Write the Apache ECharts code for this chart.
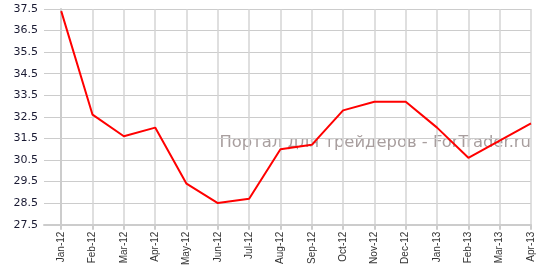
<!DOCTYPE html>
<html><head><meta charset="utf-8">
<script src="https://cdn.jsdelivr.net/npm/echarts@6/dist/echarts.min.js"></script>
<style>html,body{margin:0;padding:0;background:#fff}#c{width:536px;height:268px}</style>
</head><body><div id="c"></div>
<script>
const categories = ['Jan-12','Feb-12','Mar-12','Apr-12','May-12','Jun-12','Jul-12','Aug-12','Sep-12','Oct-12','Nov-12','Dec-12','Jan-13','Feb-13','Mar-13','Apr-13'];
const values = [37.4,32.6,31.6,32.0,29.4,28.5,28.7,31.0,31.2,32.8,33.2,33.2,32.0,30.6,31.4,32.2];
const watermark = 'Портал для трейдеров - ForTrader.ru';

const idx = categories.map((c,i)=>i);
const chart = echarts.init(document.getElementById('c'), null, {renderer:'canvas'});
chart.setOption({
  animation:false,
  grid:{left:44,right:4,top:9,bottom:42},
  graphic:[{type:'text',right:5,top:135,style:{text:watermark,font:'16.4px "DejaVu Sans", Verdana, sans-serif',fill:'#a89e9e'},z:0}],
  xAxis:{
    type:'value',min:-0.55,max:categories.length-1,
    axisLine:{show:true,lineStyle:{color:'#cccccc',width:2}},
    axisTick:{show:true,length:5,customValues:idx,lineStyle:{color:'#cccccc',width:2}},
    splitLine:{show:true,lineStyle:{color:'#d4d4d4',width:1.5}},
    axisLabel:{rotate:90,fontSize:10,color:'#333',fontFamily:'Liberation Sans, Arial, sans-serif',margin:7,customValues:idx,
      formatter:v=>categories[Math.round(v)]},
  },
  yAxis:{
    type:'value',min:27.5,max:37.5,interval:1,
    axisLine:{show:true,lineStyle:{color:'#cccccc',width:2}},
    axisTick:{show:true,length:4,lineStyle:{color:'#cccccc'}},
    splitLine:{show:true,lineStyle:{color:'#cccccc',width:1}},
    axisLabel:{fontSize:11,color:'#1a1a33',fontFamily:'DejaVu Sans, Verdana, sans-serif',margin:6,formatter:v=>v.toFixed(1)}
  },
  series:[{type:'line',data:values.map((v,i)=>[i,v]),symbol:'none',lineStyle:{color:'#ff0000',width:2},z:5}]
});
</script></body></html>
